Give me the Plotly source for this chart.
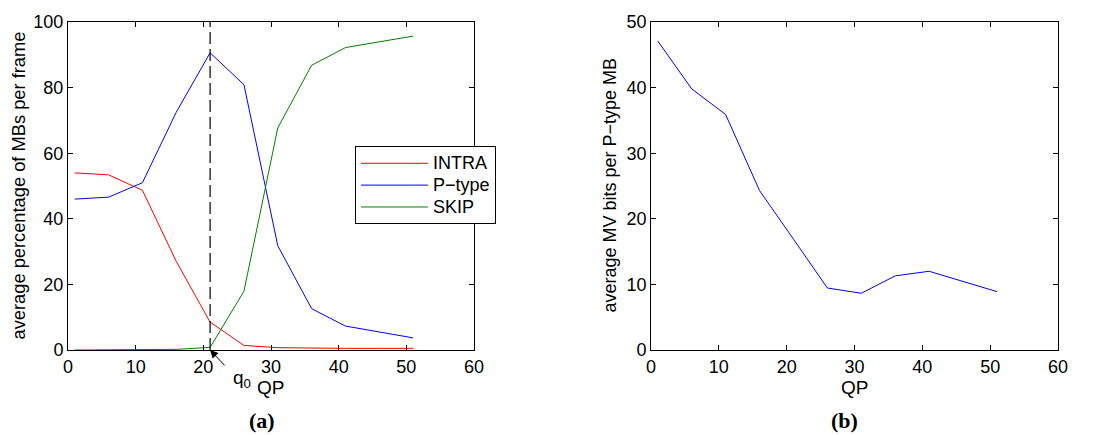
import plotly.graph_objects as go

qp = [1, 6, 11, 16, 21, 26, 31, 36, 41, 46, 51]
intra = [54.0, 53.4, 48.7, 27.0, 8.5, 1.4, 0.7, 0.5, 0.5, 0.5, 0.5]
ptype = [46.0, 46.6, 51.0, 72.5, 90.6, 80.9, 31.8, 12.6, 7.3, 5.4, 3.7]
skip = [0.0, 0.0, 0.0, 0.2, 0.8, 17.9, 67.7, 86.8, 92.2, 94.0, 95.7]
mv_bits = [47.1, 39.8, 35.9, 24.3, 16.9, 9.45, 8.65, 11.3, 12.0, 10.5, 8.9]
series_names = ["INTRA", "P\u2212type", "SKIP"]
q0 = 21

def big(s):
    return '<span style="font-size:18px">' + s + '</span>'

fig = go.Figure()
fig.add_trace(go.Scatter(x=qp, y=intra, mode="lines", name=big(series_names[0]),
                         line=dict(color="#ff0000", width=1), xaxis="x", yaxis="y"))
fig.add_trace(go.Scatter(x=qp, y=ptype, mode="lines", name=big(series_names[1]),
                         line=dict(color="#0000ff", width=1), xaxis="x", yaxis="y"))
fig.add_trace(go.Scatter(x=qp, y=skip, mode="lines", name=big(series_names[2]),
                         line=dict(color="#008000", width=1), xaxis="x", yaxis="y"))
fig.add_trace(go.Scatter(x=[q0, q0], y=[0, 100], mode="lines", showlegend=False,
                         line=dict(color="black", width=1.2, dash="12px,5px"), xaxis="x", yaxis="y"))
fig.add_trace(go.Scatter(x=qp, y=mv_bits, mode="lines", showlegend=False,
                         line=dict(color="#0000ff", width=1), xaxis="x2", yaxis="y2"))

font = "Liberation Sans, Arial, sans-serif"
ax_common = dict(showline=True, linecolor="black", linewidth=1, mirror="ticks",
                 ticks="inside", ticklen=5, tickcolor="black", showgrid=False, zeroline=False,
                 tickfont=dict(family=font, size=18, color="black"))

fig.update_layout(
    width=1099, height=435,
    margin=dict(l=68, r=41, t=15, b=85),
    paper_bgcolor="white", plot_bgcolor="white",
    xaxis=dict(domain=[0, 0.4101], range=[0, 60], dtick=10, anchor="y", **ax_common),
    yaxis=dict(domain=[0, 1], range=[0, 100], dtick=20, anchor="x", **ax_common),
    xaxis2=dict(domain=[0.5889, 1.0], range=[0, 60], dtick=10, anchor="y2", **ax_common),
    yaxis2=dict(domain=[0, 1], range=[0, 50], dtick=10, anchor="x2", **ax_common),
    legend=dict(x=(355 - 68) / 990, y=(350 - 142) / 335, xanchor="left", yanchor="top",
                bordercolor="black", borderwidth=1, bgcolor="white",
                font=dict(family=font, size=14.5, color="black"),
                tracegroupgap=0, itemwidth=67),
    showlegend=True,
)

def py(pix):
    return (350 - pix) / 335

annots = [
    dict(x=q0, y=0, xref="x", yref="y", ax=16, ay=17, showarrow=True, arrowhead=2,
         arrowsize=1.6, arrowwidth=1, arrowcolor="black", text=""),
    dict(x=(242 - 68) / 990, y=py(380), xref="paper", yref="paper", text="q<sub>0</sub>",
         showarrow=False, xanchor="center", yanchor="middle",
         font=dict(family=font, size=19, color="black")),
    dict(x=0.5, y=py(388), xref="x domain", yref="paper", text="QP", showarrow=False,
         yanchor="middle", font=dict(family=font, size=19, color="black")),
    dict(x=0.5, y=py(388), xref="x2 domain", yref="paper", text="QP", showarrow=False,
         yanchor="middle", font=dict(family=font, size=19, color="black")),
    dict(x=(19 - 68) / 990, y=py(182), xref="paper", yref="paper",
         text="average percentage of MBs per frame", xanchor="center", yanchor="middle",
         showarrow=False, textangle=-90, font=dict(family=font, size=18.3, color="black")),
    dict(x=(610 - 68) / 990, y=py(182), xref="paper", yref="paper",
         text="average MV bits per P\u2212type MB", xanchor="center", yanchor="middle",
         showarrow=False, textangle=-90, font=dict(family=font, size=18, color="black")),
    dict(x=(262 - 68) / 990, y=py(422), xref="paper", yref="paper", text="<b>(a)</b>",
         showarrow=False, xanchor="center", yanchor="middle",
         font=dict(family="Liberation Serif, serif", size=22, color="black")),
    dict(x=(844 - 68) / 990, y=py(422), xref="paper", yref="paper", text="<b>(b)</b>",
         showarrow=False, xanchor="center", yanchor="middle",
         font=dict(family="Liberation Serif, serif", size=22, color="black")),
]
fig.update_layout(annotations=annots)

fig.write_html("out.html")
